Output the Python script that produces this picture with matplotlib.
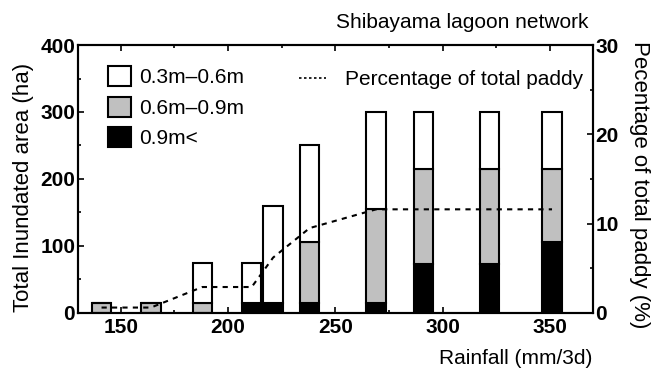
import matplotlib
matplotlib.use("Agg")
import matplotlib.pyplot as plt
from matplotlib.patches import Patch
from matplotlib.lines import Line2D
from matplotlib.ticker import MultipleLocator

plt.rcParams['font.family'] = ['Liberation Sans', 'DejaVu Sans']

# values
rainfall = [141, 164, 188, 211, 221, 238, 269, 291, 322, 351]
deep = [0, 0, 0, 15, 15, 15, 15, 73, 73, 106]        # 0.9m<
mid = [15, 15, 15, 0, 0, 91, 140, 142, 142, 109]     # 0.6m-0.9m
shallow = [0, 0, 60, 60, 145, 144, 145, 85, 85, 85]  # 0.3m-0.6m
percent = [0.6, 0.6, 2.9, 2.9, 6.2, 9.5, 11.6, 11.6, 11.6, 11.6]

fig = plt.figure(figsize=(6.55, 3.69), dpi=100)
ax = fig.add_axes([0.119, 0.152, 0.786, 0.726])
ax2 = ax.twinx()

w = 9
ec = 'black'
lw = 1.5
bottom_mid = deep
bottom_sh = [d + m for d, m in zip(deep, mid)]
ax.bar(rainfall, deep, w, color='black', edgecolor=ec, linewidth=lw)
ax.bar(rainfall, mid, w, bottom=bottom_mid, color='#c0c0c0', edgecolor=ec, linewidth=lw)
ax.bar(rainfall, shallow, w, bottom=bottom_sh, color='white', edgecolor=ec, linewidth=lw)

ax2.plot(rainfall, percent, color='black', linestyle=(0, (2.5, 2.5)), linewidth=1.5)

ax.set_xlim(130, 370)
ax.set_ylim(0, 400)
ax2.set_ylim(0, 30)

ax.xaxis.set_major_locator(MultipleLocator(50))
ax.xaxis.set_minor_locator(MultipleLocator(25))
ax.yaxis.set_major_locator(MultipleLocator(100))
ax.yaxis.set_minor_locator(MultipleLocator(50))
ax2.yaxis.set_major_locator(MultipleLocator(10))
ax2.yaxis.set_minor_locator(MultipleLocator(5))

ax.tick_params(axis='x', which='both', direction='in', top=True)
ax.tick_params(axis='y', which='both', direction='in')
ax2.tick_params(axis='y', which='both', direction='in')
for a in (ax, ax2):
    a.tick_params(which='major', length=4, width=1.2, labelsize=15, pad=2)
    a.tick_params(which='minor', length=2.5, width=1.2)
    for s in a.spines.values():
        s.set_linewidth(1.5)
ax.tick_params(axis='x', pad=4)
for lab in ax.get_xticklabels() + ax.get_yticklabels() + ax2.get_yticklabels():
    lab.set_fontweight('bold')

ax.set_ylabel('Total Inundated area (ha)', fontsize=16)
ax.yaxis.set_label_coords(-0.086, 0.47)
ax2.set_ylabel('Pecentage of total paddy (%)', fontsize=16, rotation=270, va='center')
ax2.yaxis.set_label_coords(1.09, 0.478)
ax.set_xlabel('Rainfall (mm/3d)', fontsize=15, loc='right', labelpad=8)
fig.text(0.898, 0.94, 'Shibayama lagoon network', fontsize=15, ha='right', va='center')

handles = [Patch(facecolor='white', edgecolor='black', linewidth=1.5),
           Patch(facecolor='#c0c0c0', edgecolor='black', linewidth=1.5),
           Patch(facecolor='black', edgecolor='black', linewidth=1.5)]
ax.legend(handles, ['0.3m\u20130.6m', '0.6m\u20130.9m', '0.9m<'],
          loc='upper left', bbox_to_anchor=(0.03, 0.975), frameon=False,
          fontsize=15, handlelength=1.1, handleheight=1.1,
          handletextpad=0.4, labelspacing=0.45, borderpad=0.2)
ax2.legend([Line2D([], [], color='black', linestyle=(0, (1.5, 1.5)), linewidth=1.2)],
           ['Percentage of total paddy'], loc='upper right', bbox_to_anchor=(1.01, 0.96),
           frameon=False, fontsize=15, handlelength=1.3, handletextpad=0.9, borderpad=0.2)

fig.savefig('out.png', dpi=100)
